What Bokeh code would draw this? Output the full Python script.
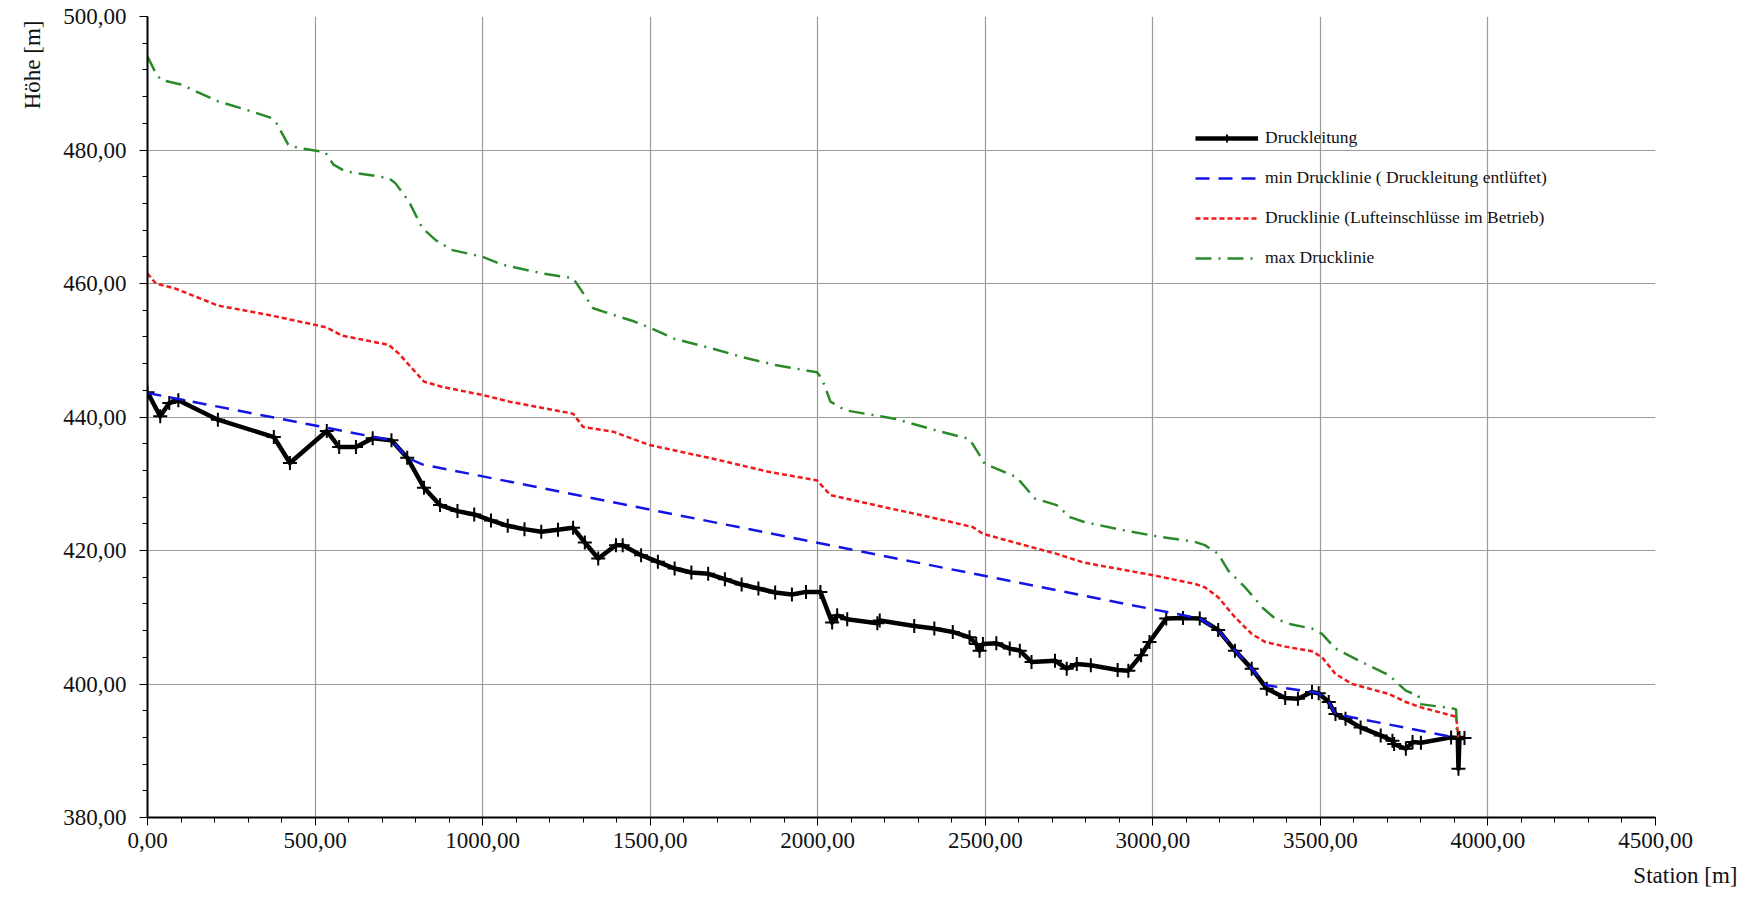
from bokeh.plotting import figure
from bokeh.models import (Range1d, SingleIntervalTicker, CustomJSTickFormatter,
                          Legend, LegendItem, Title)
from bokeh.embed import file_html
from bokeh.resources import INLINE

# ---------------- data ----------------
station_dl = [0, 38, 65, 92, 210, 377, 425, 535, 572, 622, 672, 728, 775, 825, 873,
              925, 975, 1025, 1075, 1125, 1175, 1225, 1270, 1305, 1345, 1398, 1418,
              1473, 1523, 1573, 1623, 1673, 1723, 1773, 1823, 1873, 1923, 1965, 2008,
              2043, 2058, 2088, 2178, 2185, 2288, 2348, 2403, 2453, 2473, 2483, 2493,
              2533, 2573, 2603, 2638, 2708, 2743, 2773, 2815, 2895, 2927, 2965, 2990,
              3040, 3090, 3140, 3195, 3245, 3295, 3340, 3395, 3433, 3475, 3495, 3525,
              3545, 3575, 3620, 3680, 3715, 3720, 3755, 3775, 3800, 3890, 3910, 3912,
              3915, 3930]
hoehe_dl = [443.7, 440.1, 442.1, 442.5, 439.6, 437.0, 433.1, 437.9, 435.5, 435.5,
            436.8, 436.5, 433.9, 429.4, 426.8, 425.9, 425.4, 424.5, 423.7, 423.2,
            422.8, 423.1, 423.4, 421.2, 418.8, 420.8, 420.8, 419.3, 418.3, 417.3,
            416.7, 416.5, 415.7, 414.9, 414.3, 413.7, 413.4, 413.8, 413.8, 409.2,
            410.3, 409.7, 409.1, 409.5, 408.7, 408.3, 407.8, 407.0, 406.0, 405.0,
            406.0, 406.1, 405.3, 405.0, 403.3, 403.5, 402.3, 403.0, 402.8, 402.1,
            402.0, 404.3, 406.3, 409.8, 409.9, 409.8, 408.1, 405.0, 402.3, 399.3,
            397.9, 397.8, 398.8, 398.6, 397.3, 395.5, 394.8, 393.5, 392.3, 391.5,
            391.0, 390.3, 391.3, 391.2, 392.0, 391.9, 387.3, 391.9, 391.9]

station_min = [0, 728, 775, 820, 3140, 3195, 3245, 3295, 3340, 3475, 3495, 3525, 3545, 3900]
hoehe_min = [443.6, 436.5, 433.9, 432.9, 409.8, 408.1, 405.0, 402.3, 399.8, 398.8,
             398.6, 397.3, 395.5, 392.0]

station_luft = [0, 25, 80, 130, 210, 360, 500, 535, 580, 720, 750, 825, 880, 1000,
                1080, 1270, 1300, 1390, 1498, 1683, 1853, 1998, 2038, 2153, 2353, 2463,
                2493, 2653, 2713, 2793, 3000, 3125, 3155, 3195, 3245, 3295, 3335, 3395,
                3475, 3505, 3545, 3595, 3705, 3755, 3800, 3905, 3912]
hoehe_luft = [461.5, 460.0, 459.3, 458.3, 456.7, 455.3, 453.8, 453.4, 452.2, 450.8,
              449.5, 445.3, 444.5, 443.3, 442.3, 440.5, 438.5, 437.8, 435.8, 433.8,
              431.8, 430.5, 428.3, 427.0, 424.8, 423.5, 422.5, 420.3, 419.5, 418.2,
              416.3, 415.0, 414.5, 413.0, 410.0, 407.5, 406.3, 405.6, 404.9, 404.0,
              401.5, 400.0, 398.5, 397.3, 396.5, 395.1, 392.0]

station_max = [0, 25, 40, 100, 210, 310, 370, 385, 420, 450, 530, 555, 590, 720, 740,
               780, 820, 860, 910, 1000, 1060, 1180, 1270, 1290, 1330, 1390, 1453, 1498,
               1573, 1683, 1773, 1873, 1998, 2013, 2038, 2083, 2233, 2353, 2453, 2483,
               2498, 2593, 2648, 2713, 2753, 2793, 2925, 3015, 3125, 3155, 3195, 3225,
               3275, 3330, 3365, 3415, 3475, 3505, 3545, 3635, 3705, 3755, 3793, 3795,
               3890, 3905, 3908]
hoehe_max = [494.0, 491.5, 490.5, 489.8, 487.3, 485.8, 484.8, 484.0, 480.8, 480.3,
             479.7, 477.8, 476.8, 475.8, 475.0, 472.3, 468.3, 466.5, 465.0, 464.0,
             462.8, 461.5, 460.8, 459.3, 456.3, 455.3, 454.3, 453.4, 451.7, 450.3,
             449.0, 447.8, 446.7, 445.7, 442.3, 441.0, 439.7, 438.0, 436.7, 434.3,
             433.0, 431.0, 427.8, 426.8, 425.0, 424.3, 422.9, 422.1, 421.3, 420.8,
             419.5, 417.0, 414.5, 411.3, 409.8, 408.9, 408.3, 407.5, 405.3, 403.0,
             401.3, 399.0, 398.2, 397.0, 396.4, 396.2, 392.0]

labels = ["Druckleitung",
          "min Drucklinie ( Druckleitung entlüftet)",
          "Drucklinie (Lufteinschlüsse im Betrieb)",
          "max Drucklinie"]
x_title = "Station [m]"
y_title = "Höhe [m]"

FONT = "Liberation Serif"

# ---------------- figure ----------------
p = figure(width=1748, height=900, output_backend="svg", toolbar_location=None,
           x_range=Range1d(0, 4500), y_range=Range1d(380, 500),
           min_border_left=147, min_border_right=93, min_border_top=16,
           min_border_bottom=83)
p.outline_line_color = None
p.background_fill_color = "white"
p.border_fill_color = "white"

fmt = CustomJSTickFormatter(code="return tick.toFixed(2).replace('.', ',');")

xt = SingleIntervalTicker(interval=500, num_minor_ticks=5)
yt = SingleIntervalTicker(interval=20, num_minor_ticks=5)
p.xaxis.ticker = xt
p.yaxis.ticker = yt
p.xgrid.ticker = xt
p.ygrid.ticker = yt
for ax in (p.xaxis[0], p.yaxis[0]):
    ax.formatter = fmt
    ax.axis_line_color = "black"
    ax.axis_line_width = 2
    ax.major_tick_line_color = "black"
    ax.minor_tick_line_color = "black"
    ax.major_tick_in = 0
    ax.major_tick_out = 8
    ax.minor_tick_in = 0
    ax.minor_tick_out = 5
    ax.major_label_text_font = FONT
    ax.major_label_text_font_size = "23px"
    ax.major_label_text_color = "#111111"
p.xaxis.major_label_standoff = 7
p.yaxis.major_label_standoff = 13

for g in (p.xgrid[0], p.ygrid[0]):
    g.grid_line_color = "#9a9a9a"
    g.grid_line_width = 1.2

# ---------------- series ----------------
r_dl = p.line(station_dl, hoehe_dl, line_color="black", line_width=4.5, line_join="round")
r_dl_pts = p.scatter(station_dl, hoehe_dl, marker="cross", size=14,
                     line_color="black", line_width=2)
r_min = p.line(station_min, hoehe_min, line_color="#1414e6", line_width=2.5,
               line_dash="14 9")
r_luft = p.line(station_luft, hoehe_luft, line_color="#f01818", line_width=2.5,
                line_dash="5 3")
r_max = p.line(station_max, hoehe_max, line_color="#2a8a2a", line_width=2.5,
               line_dash="16 7 2 7")

legend = Legend(items=[LegendItem(label=labels[0], renderers=[r_dl, r_dl_pts]),
                       LegendItem(label=labels[1], renderers=[r_min]),
                       LegendItem(label=labels[2], renderers=[r_luft]),
                       LegendItem(label=labels[3], renderers=[r_max])],
                location=(1048, 549), glyph_width=63, glyph_height=20,
                label_height=20, spacing=19, padding=0, margin=0,
                border_line_color=None, background_fill_alpha=0,
                label_text_font=FONT, label_text_font_size="17.5px",
                label_standoff=7, label_text_baseline="middle",
                label_text_color="#111111")
p.add_layout(legend)

# axis titles: top-left (vertical) and bottom-right, as in the original
t_y = Title(text=y_title, align="right", offset=4, standoff=32,
            text_font=FONT, text_font_size="23px", text_font_style="normal",
            text_color="#111111")
p.add_layout(t_y, "left")
t_x = Title(text=x_title, align="right", offset=-82, standoff=21,
            text_font=FONT, text_font_size="23px", text_font_style="normal",
            text_color="#111111")
p.add_layout(t_x, "below")

open("out.html", "w").write(file_html(p, INLINE))
